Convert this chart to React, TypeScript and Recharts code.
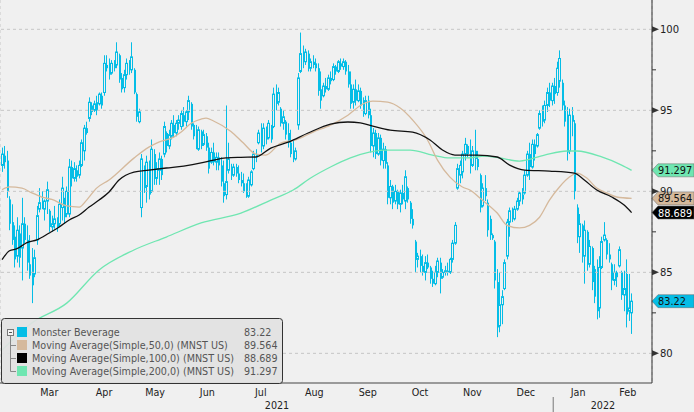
import {
  Bar,
  CartesianGrid,
  ComposedChart,
  Line,
  ReferenceLine,
  XAxis,
  YAxis,
} from "recharts";

// daily bars as [open, high, low, close], one array per month
const feb21 = [
  [91.6, 92.7, 91.2, 92.3], [92.2, 92.8, 91.4, 91.8], [91.9, 92.5, 89.6, 90.0], [89.5, 89.7, 87.6, 88.0],
  [88.1, 89.2, 86.7, 87.0], [87.2, 87.9, 85.3, 85.8], [86.0, 88.4, 85.6, 87.6], [87.4, 87.9, 85.3, 85.9],
];
const mar21 = [
  [86.5, 89.6, 84.5, 88.0], [88.0, 88.4, 86.8, 87.0], [87.0, 87.9, 85.1, 85.6], [85.5, 87.3, 84.6, 84.8],
  [85.0, 86.5, 83.1, 84.2], [84.9, 86.4, 84.7, 85.9], [87.0, 89.1, 86.7, 88.5], [88.9, 90.2, 88.7, 89.3],
  [89.4, 90.0, 88.9, 89.0], [88.9, 89.5, 88.2, 89.4], [89.4, 90.6, 88.6, 90.1], [88.8, 88.9, 87.5, 87.8],
  [87.8, 88.5, 87.5, 88.0], [88.0, 89.1, 87.7, 88.3], [88.3, 88.4, 87.5, 87.8], [88.0, 89.5, 87.8, 89.2],
  [89.0, 90.9, 88.2, 90.2], [89.4, 89.6, 88.0, 88.4], [88.6, 90.3, 88.4, 90.0], [88.6, 92.0, 88.4, 91.5],
  [91.5, 91.9, 90.3, 90.8], [90.8, 91.8, 90.6, 91.4], [91.3, 91.6, 90.6, 90.9],
];
const apr21 = [
  [91.0, 91.9, 90.8, 91.6], [91.6, 93.2, 91.5, 93.0], [92.5, 94.1, 91.9, 93.9], [93.9, 94.3, 93.5, 93.6],
  [94.5, 95.8, 94.3, 95.5], [95.3, 95.5, 94.7, 94.9], [95.0, 95.6, 94.9, 95.4], [95.5, 95.9, 94.7, 95.0],
  [95.4, 96.1, 95.3, 96.0], [95.9, 96.1, 95.1, 95.3], [96.1, 98.4, 95.9, 97.9], [97.8, 98.4, 97.4, 97.6],
  [97.6, 98.2, 96.9, 97.2], [97.3, 98.1, 97.2, 97.9], [97.9, 98.1, 97.4, 97.6], [97.8, 99.2, 97.6, 98.6],
  [98.4, 98.5, 96.7, 96.9], [97.0, 97.3, 96.1, 96.3], [96.4, 97.5, 96.1, 97.2], [97.2, 98.2, 96.9, 97.9],
  [97.9, 98.1, 97.2, 97.5],
];
const may21 = [
  [97.5, 99.2, 97.3, 98.3], [97.5, 97.6, 96.0, 96.1], [96.0, 96.1, 94.3, 94.6], [94.3, 95.1, 94.2, 94.9],
  [89.0, 92.3, 88.4, 92.0], [91.5, 91.6, 89.9, 90.2], [90.3, 92.2, 89.3, 91.8], [91.5, 91.9, 89.5, 89.8],
  [90.0, 93.2, 89.9, 92.6], [92.3, 92.6, 90.4, 90.8], [90.8, 91.8, 90.4, 91.4], [91.3, 92.4, 90.4, 92.0],
  [92.0, 92.2, 90.7, 91.0], [92.3, 94.3, 92.1, 94.0], [93.6, 93.7, 92.4, 92.8], [92.8, 93.8, 92.6, 93.5],
  [93.4, 94.4, 93.2, 94.2], [94.1, 94.7, 93.3, 93.6], [93.6, 94.4, 93.4, 94.2], [94.2, 94.7, 93.8, 94.4],
];
const jun21 = [
  [94.0, 95.0, 93.8, 94.8], [94.7, 95.2, 94.0, 94.3], [94.3, 95.0, 94.0, 94.9], [94.9, 95.9, 94.4, 95.6],
  [95.4, 95.5, 93.8, 94.0], [94.1, 94.2, 93.2, 93.4], [93.5, 94.1, 92.6, 92.7], [92.6, 94.0, 92.5, 93.8],
  [93.7, 93.8, 92.6, 92.8], [92.9, 93.8, 92.8, 93.5], [93.4, 93.6, 92.5, 92.7], [92.7, 93.0, 91.1, 91.4],
  [91.8, 92.7, 91.7, 92.4], [92.4, 93.0, 91.6, 91.8], [91.8, 92.4, 91.3, 92.1], [92.1, 92.4, 91.3, 91.6],
  [91.6, 92.1, 90.3, 90.6], [90.5, 91.9, 89.3, 89.7], [89.8, 95.3, 89.5, 90.6], [91.3, 93.0, 91.1, 92.0],
  [91.5, 91.7, 90.7, 91.0], [91.0, 91.7, 90.9, 91.5],
];
const jul21 = [
  [91.5, 91.7, 90.9, 91.1], [91.1, 91.6, 90.5, 90.7], [90.7, 91.2, 90.3, 90.5], [90.5, 91.1, 89.9, 90.0],
  [90.0, 90.5, 89.6, 89.7], [89.7, 90.9, 89.6, 90.7], [90.4, 91.3, 90.3, 91.2], [91.4, 92.5, 91.3, 92.3],
  [92.3, 92.6, 91.8, 92.1], [93.0, 93.8, 92.9, 93.6], [93.5, 94.2, 92.4, 92.8], [92.8, 94.2, 92.6, 93.9],
  [93.9, 94.0, 92.9, 93.2], [93.3, 94.4, 93.2, 94.2], [94.0, 94.1, 93.0, 93.2], [94.0, 96.4, 93.9, 96.0],
  [96.0, 96.6, 95.0, 95.4], [95.5, 96.4, 95.3, 96.1], [95.1, 95.2, 94.0, 94.2], [94.2, 95.0, 93.8, 94.6],
  [94.3, 94.4, 93.2, 93.5],
];
const aug21 = [
  [93.6, 94.2, 92.7, 93.0], [93.0, 93.8, 92.1, 92.3], [92.3, 93.2, 91.8, 92.0], [92.0, 92.7, 91.9, 92.5],
  [94.1, 97.3, 93.8, 97.0], [97.4, 99.8, 97.3, 98.5], [98.6, 99.0, 97.6, 98.0], [98.0, 98.8, 97.8, 98.6],
  [98.5, 98.7, 97.4, 97.6], [97.6, 98.2, 97.4, 98.0], [98.0, 98.4, 97.6, 97.8], [97.9, 98.2, 97.4, 97.6],
  [97.6, 97.9, 95.9, 96.2], [96.3, 97.4, 95.1, 95.6], [95.9, 96.7, 95.8, 96.5], [96.5, 97.0, 96.1, 96.3],
  [96.3, 97.2, 96.2, 97.0], [97.0, 97.4, 96.6, 96.8], [96.9, 97.9, 96.8, 97.7], [97.7, 97.8, 97.2, 97.4],
  [97.4, 98.1, 97.3, 98.0], [97.9, 98.2, 97.5, 97.7],
];
const sep21 = [
  [97.7, 98.2, 97.5, 98.0], [98.0, 98.1, 97.2, 97.4], [97.4, 97.8, 96.4, 96.6], [96.6, 97.4, 95.1, 95.4],
  [95.5, 96.6, 95.1, 96.3], [96.3, 96.9, 95.3, 95.6], [95.6, 96.6, 95.5, 96.2], [96.2, 96.4, 95.1, 95.3],
  [95.3, 95.8, 94.6, 94.8], [94.8, 95.9, 94.7, 95.6], [95.6, 95.9, 94.5, 94.7], [94.7, 95.1, 92.4, 92.8],
  [92.8, 93.9, 92.1, 93.6], [93.6, 93.8, 92.0, 92.3], [92.3, 93.6, 92.2, 93.3], [93.3, 93.5, 91.6, 91.9],
  [91.9, 93.0, 91.4, 92.6], [92.6, 92.8, 91.4, 91.7], [91.6, 91.8, 89.2, 89.6], [89.6, 90.7, 89.2, 90.3],
  [90.3, 90.4, 88.9, 89.3],
];
const oct21 = [
  [89.4, 90.4, 89.2, 90.0], [90.0, 90.1, 88.9, 89.2], [89.2, 90.1, 88.7, 89.9], [89.9, 90.4, 89.2, 89.5],
  [89.4, 91.3, 88.9, 90.9], [90.2, 90.3, 89.3, 89.5], [89.3, 89.4, 88.0, 88.3], [88.3, 88.9, 87.7, 87.9],
  [86.9, 87.0, 85.0, 85.8], [85.8, 86.2, 85.3, 86.0], [86.0, 86.4, 85.0, 85.4], [85.4, 86.1, 84.8, 85.0],
  [85.0, 86.0, 84.5, 85.6], [85.6, 86.1, 85.2, 85.3], [85.3, 85.4, 84.3, 84.6], [84.6, 85.1, 84.1, 84.3],
  [84.3, 85.4, 84.2, 85.0], [85.0, 85.9, 84.7, 85.7], [85.6, 85.9, 83.7, 84.6], [84.7, 85.2, 84.6, 85.0],
  [85.0, 85.4, 84.8, 85.1],
];
const nov21 = [
  [85.1, 85.6, 84.8, 85.0], [85.0, 85.9, 84.9, 85.8], [85.8, 87.0, 85.6, 86.8], [86.8, 88.1, 86.7, 87.9],
  [90.2, 91.7, 90.1, 91.4], [91.0, 91.9, 90.5, 91.6], [91.2, 92.5, 90.8, 92.3], [92.3, 93.3, 91.9, 92.9],
  [92.8, 92.9, 92.1, 92.3], [92.3, 93.2, 91.1, 91.6], [91.6, 92.8, 91.5, 92.5], [92.5, 93.8, 91.3, 92.0],
  [92.0, 92.5, 91.3, 91.5], [91.0, 91.1, 88.7, 89.0], [89.1, 90.5, 89.0, 90.2], [90.2, 91.0, 89.4, 89.7],
  [89.3, 89.5, 87.2, 87.6], [88.3, 88.5, 87.0, 87.3], [87.3, 87.4, 87.0, 87.1], [86.9, 87.0, 84.0, 84.5],
  [84.4, 85.2, 81.0, 81.6],
];
const dec21 = [
  [81.7, 85.0, 81.3, 83.0], [83.0, 83.9, 81.8, 83.5], [84.0, 85.8, 83.9, 85.6], [86.0, 88.3, 85.8, 88.1],
  [88.1, 89.0, 87.2, 88.8], [88.8, 89.0, 88.1, 88.3], [88.3, 89.1, 88.2, 88.9], [88.9, 89.6, 88.8, 89.4],
  [89.4, 90.0, 89.1, 89.9], [89.8, 90.2, 89.2, 89.5], [89.9, 91.3, 89.8, 91.0], [91.0, 92.5, 90.9, 92.3],
  [92.3, 93.0, 90.7, 91.5], [91.5, 93.2, 91.4, 92.9], [92.9, 93.2, 91.9, 92.3], [92.8, 93.6, 92.7, 93.5],
  [93.9, 95.0, 93.8, 94.8], [94.8, 95.3, 94.0, 94.3], [94.4, 95.6, 94.2, 95.3], [95.3, 96.4, 94.9, 96.1],
  [96.1, 96.7, 95.2, 95.6], [95.6, 96.7, 95.3, 96.5],
];
const jan22 = [
  [96.5, 97.0, 95.4, 96.0], [96.1, 98.0, 95.9, 97.6], [96.8, 98.7, 96.4, 98.2], [96.7, 96.9, 95.0, 95.3],
  [95.3, 95.6, 94.0, 94.3], [94.3, 95.2, 91.9, 92.4], [92.5, 95.1, 92.3, 94.7], [94.7, 95.2, 93.4, 94.3],
  [94.2, 94.4, 89.5, 90.0], [89.0, 89.2, 86.8, 87.2], [87.2, 88.6, 86.2, 88.0], [87.9, 88.0, 85.6, 86.0],
  [86.0, 88.2, 84.3, 87.6], [87.5, 87.6, 85.1, 85.5], [85.5, 87.0, 85.3, 86.6], [86.5, 86.6, 83.9, 84.4],
  [85.2, 85.4, 83.1, 83.5], [83.5, 85.8, 82.1, 82.6], [82.8, 86.0, 82.2, 85.3], [85.3, 87.2, 85.2, 86.9],
];
const feb22 = [
  [87.0, 88.1, 86.9, 87.3], [87.0, 87.1, 85.8, 86.1], [86.1, 86.8, 85.6, 85.8], [85.5, 85.6, 83.9, 84.5],
  [84.5, 85.5, 84.2, 85.0], [85.0, 85.1, 84.1, 84.7], [85.4, 86.6, 85.3, 86.4], [85.0, 85.1, 83.3, 83.6],
  [83.6, 85.1, 82.6, 84.0], [84.9, 85.8, 81.6, 82.4], [82.6, 84.9, 82.0, 82.8], [82.5, 83.7, 81.2, 83.22],
];

// moving averages: [bar index, value]
const ma50Pts = [
  [0, 90.1], [3, 90.27], [8, 90.2], [12, 89.9], [16, 89.65], [20, 89.5], [26, 89.1], [31, 89.03],
  [34, 89.46], [38, 90.2], [43, 90.7], [53, 92.05], [59, 92.73], [63, 93.04], [69, 93.35], [72, 93.66],
  [76, 94.2], [80, 94.46], [82, 94.52], [85, 94.34], [92, 93.7], [97, 92.98], [102, 92.3], [106, 92.24],
  [112, 92.98], [118, 93.17], [125, 93.66], [132, 94.09], [139, 94.7], [145, 95.39], [149, 95.57],
  [155, 95.5], [160, 95.14], [165, 94.4], [171, 93.17], [175, 91.93], [180, 90.88], [185, 90.27],
  [188, 90.08], [193, 89.46], [199, 88.66], [203, 87.9], [208, 87.74], [212, 87.9], [216, 88.4],
  [220, 89.46], [224, 90.27], [228, 90.88], [231, 91.13], [235, 90.82], [239, 90.2], [243, 89.9],
  [247, 89.65], [253, 89.564],
];
const ma100Pts = [
  [0, 85.78], [3, 86.33], [6, 86.46], [10, 86.83], [14, 87.0], [19, 87.43], [23, 87.8], [27, 88.23],
  [31, 88.54], [35, 89.03], [39, 89.46], [43, 89.96], [47, 90.7], [53, 91.19], [59, 91.31], [66, 91.44],
  [73, 91.56], [80, 91.75], [85, 91.93], [90, 92.06], [96, 92.1], [102, 92.12], [108, 92.67], [115, 93.04],
  [123, 93.6], [132, 94.15], [139, 94.28], [144, 94.22], [149, 94.03], [156, 93.78], [165, 93.66],
  [172, 93.17], [177, 92.55], [182, 92.24], [191, 92.24], [199, 92.12], [204, 91.62], [210, 91.31],
  [220, 91.25], [230, 91.13], [234, 90.7], [239, 90.08], [245, 89.65], [250, 89.15], [253, 88.689],
];
const ma200Pts = [
  [0, 80.2], [12, 81.88], [26, 83.1], [39, 85.15], [53, 86.38], [66, 87.18], [80, 88.05], [96, 88.66],
  [108, 89.46], [117, 90.08], [124, 90.82], [132, 91.5], [140, 92.06], [148, 92.43], [153, 92.55],
  [164, 92.55], [173, 92.24], [180, 92.06], [187, 92.06], [194, 92.18], [200, 92.06], [208, 91.87],
  [218, 92.24], [227, 92.49], [231, 92.49], [241, 92.12], [249, 91.62], [253, 91.297],
];

const monthLabels = ["Mar", "Apr", "May", "Jun", "Jul", "Aug", "Sep", "Oct", "Nov", "Dec", "Jan", "Feb"];
// bar index where each month begins (last entry = end of axis)
const monthStarts = [8, 31, 52, 72, 94, 115, 137, 158, 179, 200, 222, 242, 262];
const yearLabels = ["2021", "2022"];
const yearStarts = [0, 222, 262];

const seriesNames = [
  "Monster Beverage",
  "Moving Average(Simple,50,0) (MNST US)",
  "Moving Average(Simple,100,0) (MNST US)",
  "Moving Average(Simple,200,0) (MNST US)",
];
const lastValues = [83.22, 89.564, 88.689, 91.297];
const lastLabels = ["83.22", "89.564", "88.689", "91.297"];

const CYAN = "#05bde6";
const TAN = "#d5b99c";
const BLACK = "#111111";
const MINT = "#6fe6b1";
const FONT = "'DejaVu Sans', sans-serif";

const bars = [...feb21, ...mar21, ...apr21, ...may21, ...jun21, ...jul21, ...aug21, ...sep21, ...oct21, ...nov21, ...dec21, ...jan22, ...feb22];

const rows = bars.map(([o, h, l, c], i) => ({ t: i + 0.5, o, h, l, c, range: [l, h] }));
const toLine = (pts: number[][]) => pts.map(([i, v]) => ({ t: i + 0.5, v }));
const ma50Rows = toLine(ma50Pts);
const ma100Rows = toLine(ma100Pts);
const ma200Rows = toLine(ma200Pts);

const monthMids = monthLabels.map((_, k) => (monthStarts[k] + monthStarts[k + 1]) / 2);
const yearTicks = [
  (yearStarts[0] + yearStarts[1]) / 2,
  yearStarts[1],
  (yearStarts[1] + yearStarts[2]) / 2,
];

const X_DOMAIN = [-0.32, 261.7];
const Y_DOMAIN = [78.17, 101.81];

function Candle(props: any) {
  const { x, y, width, height, payload } = props;
  const { o, h, l, c } = payload;
  const span = h - l || 1;
  const py = (v: number) => y + ((h - v) / span) * height;
  const cx = Math.round(x + width / 2);
  const top = py(Math.max(o, c));
  const bot = py(Math.min(o, c));
  const up = c >= o;
  if (up) {
    const bh = Math.max(bot - top, 1);
    return (
      <g>
        <line x1={cx + 0.5} x2={cx + 0.5} y1={y} y2={top} stroke={CYAN} strokeWidth={1} />
        <line x1={cx + 0.5} x2={cx + 0.5} y1={top + bh} y2={y + height} stroke={CYAN} strokeWidth={1} />
        <rect x={cx - 0.5} y={top} width={2} height={bh} fill="none" stroke={CYAN} strokeWidth={1} />
      </g>
    );
  }
  return (
    <g>
      <line x1={cx + 0.5} x2={cx + 0.5} y1={y} y2={y + height} stroke={CYAN} strokeWidth={1} />
      <rect x={cx} y={top} width={2} height={Math.max(bot - top, 1)} fill={CYAN} />
    </g>
  );
}

function PriceTick(props: any) {
  const { x, y, payload } = props;
  const v = payload.value;
  if (v % 5 !== 0) {
    return <line x1={x} x2={x + 4} y1={y} y2={y} stroke="#333" strokeWidth={1} />;
  }
  return (
    <g>
      <polygon points={`${x},${y - 3} ${x + 7},${y} ${x},${y + 3}`} fill="#333" />
      <text x={x + 8} y={y} dominantBaseline="central" fontSize={10} fontFamily={FONT} fill="#222">
        {v}
      </text>
    </g>
  );
}

function MonthTick(props: any) {
  const { x, y, index } = props;
  return (
    <text x={x} y={y + 8.5} textAnchor="middle" fontSize={9.6} fontFamily={FONT} fill="#222">
      {monthLabels[index]}
    </text>
  );
}

function YearTick(props: any) {
  const { x, y, index } = props;
  if (index === 1) {
    return <line x1={x} x2={x} y1={y - 2} y2={y + 13} stroke="#777" strokeWidth={1} />;
  }
  return (
    <text x={x} y={y + 9.5} textAnchor="middle" fontSize={9.6} fontFamily={FONT} fill="#222">
      {yearLabels[index === 0 ? 0 : 1]}
    </text>
  );
}

function PriceTag(props: any) {
  const { viewBox, text, fill, color } = props;
  if (!viewBox) return null;
  const x = viewBox.x + viewBox.width;
  const y = viewBox.y;
  return (
    <g>
      <polygon
        points={`${x},${y} ${x + 6},${y - 6.5} ${x + 42},${y - 6.5} ${x + 42},${y + 6.5} ${x + 6},${y + 6.5}`}
        fill={fill}
        stroke="#666"
        strokeWidth={0.5}
      />
      <text x={x + 6} y={y + 0.5} dominantBaseline="central" fontSize={9.8} fontFamily={FONT} fill={color}>
        {text}
      </text>
    </g>
  );
}

const tagStyles = [
  { fill: CYAN, color: "#111" },
  { fill: TAN, color: "#111" },
  { fill: "#000", color: "#fff" },
  { fill: MINT, color: "#111" },
];
const swatches = [CYAN, TAN, "#000", MINT];

function LegendBox() {
  return (
    <svg width={284} height={67} style={{ position: "absolute", left: 0, top: 317 }}>
      <rect x={1.5} y={1.5} width={281} height={65} rx={3} fill="rgba(226,226,226,0.92)" stroke="#333" strokeWidth={1} />
      <rect x={7.5} y={12.5} width={6} height={6} fill="#f4f4f4" stroke="#777" strokeWidth={1} />
      <line x1={9} x2={12} y1={15.5} y2={15.5} stroke="#555" strokeWidth={1} />
      <line x1={10.5} x2={10.5} y1={19} y2={54.5} stroke="#888" strokeWidth={1} />
      {seriesNames.map((name, k) => {
        const cy = 15 + k * 13;
        return (
          <g key={name}>
            {k > 0 && <line x1={10.5} x2={16} y1={cy + 0.5} y2={cy + 0.5} stroke="#888" strokeWidth={1} />}
            <rect x={17} y={cy - 5} width={10} height={10} fill={swatches[k]} />
            <text x={32} y={cy} dominantBaseline="central" fontSize={9.6} fontFamily={FONT} fill="#555">
              {name}
            </text>
            <text x={244} y={cy} dominantBaseline="central" fontSize={9.6} fontFamily={FONT} fill="#555">
              {lastLabels[k]}
            </text>
          </g>
        );
      })}
    </svg>
  );
}

export default function App() {
  return (
    <div style={{ position: "absolute", left: 0, top: 0, width: 694, height: 412, background: "#f0f0f0" }}>
      <ComposedChart width={694} height={412} data={rows} margin={{ top: 0, right: 0, bottom: 0, left: 0 }}>
        <CartesianGrid xAxisId="a" yAxisId="p" horizontal={false} stroke="#c6c6c6" strokeDasharray="3 3" />
        <XAxis
          xAxisId="a"
          type="number"
          dataKey="t"
          domain={X_DOMAIN}
          ticks={monthStarts}
          allowDataOverflow
          tick={false}
          tickSize={4}
          height={4}
          axisLine={{ stroke: "#444" }}
          tickLine={{ stroke: "#444" }}
        />
        <XAxis
          xAxisId="m"
          type="number"
          dataKey="t"
          domain={X_DOMAIN}
          ticks={monthMids}
          allowDataOverflow
          axisLine={false}
          tickLine={false}
          tickSize={0}
          tickMargin={0}
          interval={0}
          height={12}
          tick={<MonthTick />}
        />
        <XAxis
          xAxisId="y"
          type="number"
          dataKey="t"
          domain={X_DOMAIN}
          ticks={yearTicks}
          allowDataOverflow
          axisLine={false}
          tickLine={false}
          tickSize={0}
          tickMargin={0}
          interval={0}
          height={13}
          tick={<YearTick />}
        />
        <YAxis
          yAxisId="p"
          orientation="right"
          domain={Y_DOMAIN}
          allowDataOverflow
          ticks={[80, 82.5, 85, 87.5, 90, 92.5, 95, 97.5, 100]}
          interval={0}
          width={42}
          tickLine={false}
          tickSize={0}
          tickMargin={0}
          axisLine={{ stroke: "#333" }}
          tick={<PriceTick />}
        />
        {[80, 85, 90, 95, 100].map((v) => (
          <ReferenceLine key={v} xAxisId="a" yAxisId="p" y={v} stroke="#c6c6c6" strokeDasharray="3 3" />
        ))}
        <Bar xAxisId="a" yAxisId="p" dataKey="range" barSize={2} shape={<Candle />} isAnimationActive={false} />
        <Line xAxisId="a" yAxisId="p" data={ma200Rows} type="monotone" dataKey="v" stroke={MINT} strokeWidth={1.3} dot={false} activeDot={false} isAnimationActive={false} />
        <Line xAxisId="a" yAxisId="p" data={ma50Rows} type="monotone" dataKey="v" stroke={TAN} strokeWidth={1.3} dot={false} activeDot={false} isAnimationActive={false} />
        <Line xAxisId="a" yAxisId="p" data={ma100Rows} type="monotone" dataKey="v" stroke={BLACK} strokeWidth={1.3} dot={false} activeDot={false} isAnimationActive={false} />
        {lastValues.map((v, k) => (
          <ReferenceLine
            key={`tag${k}`}
            xAxisId="a"
            yAxisId="p"
            y={v}
            stroke="none"
            label={(p: any) => <PriceTag {...p} text={lastLabels[k]} fill={tagStyles[k].fill} color={tagStyles[k].color} />}
          />
        ))}
      </ComposedChart>
      <LegendBox />
    </div>
  );
}
